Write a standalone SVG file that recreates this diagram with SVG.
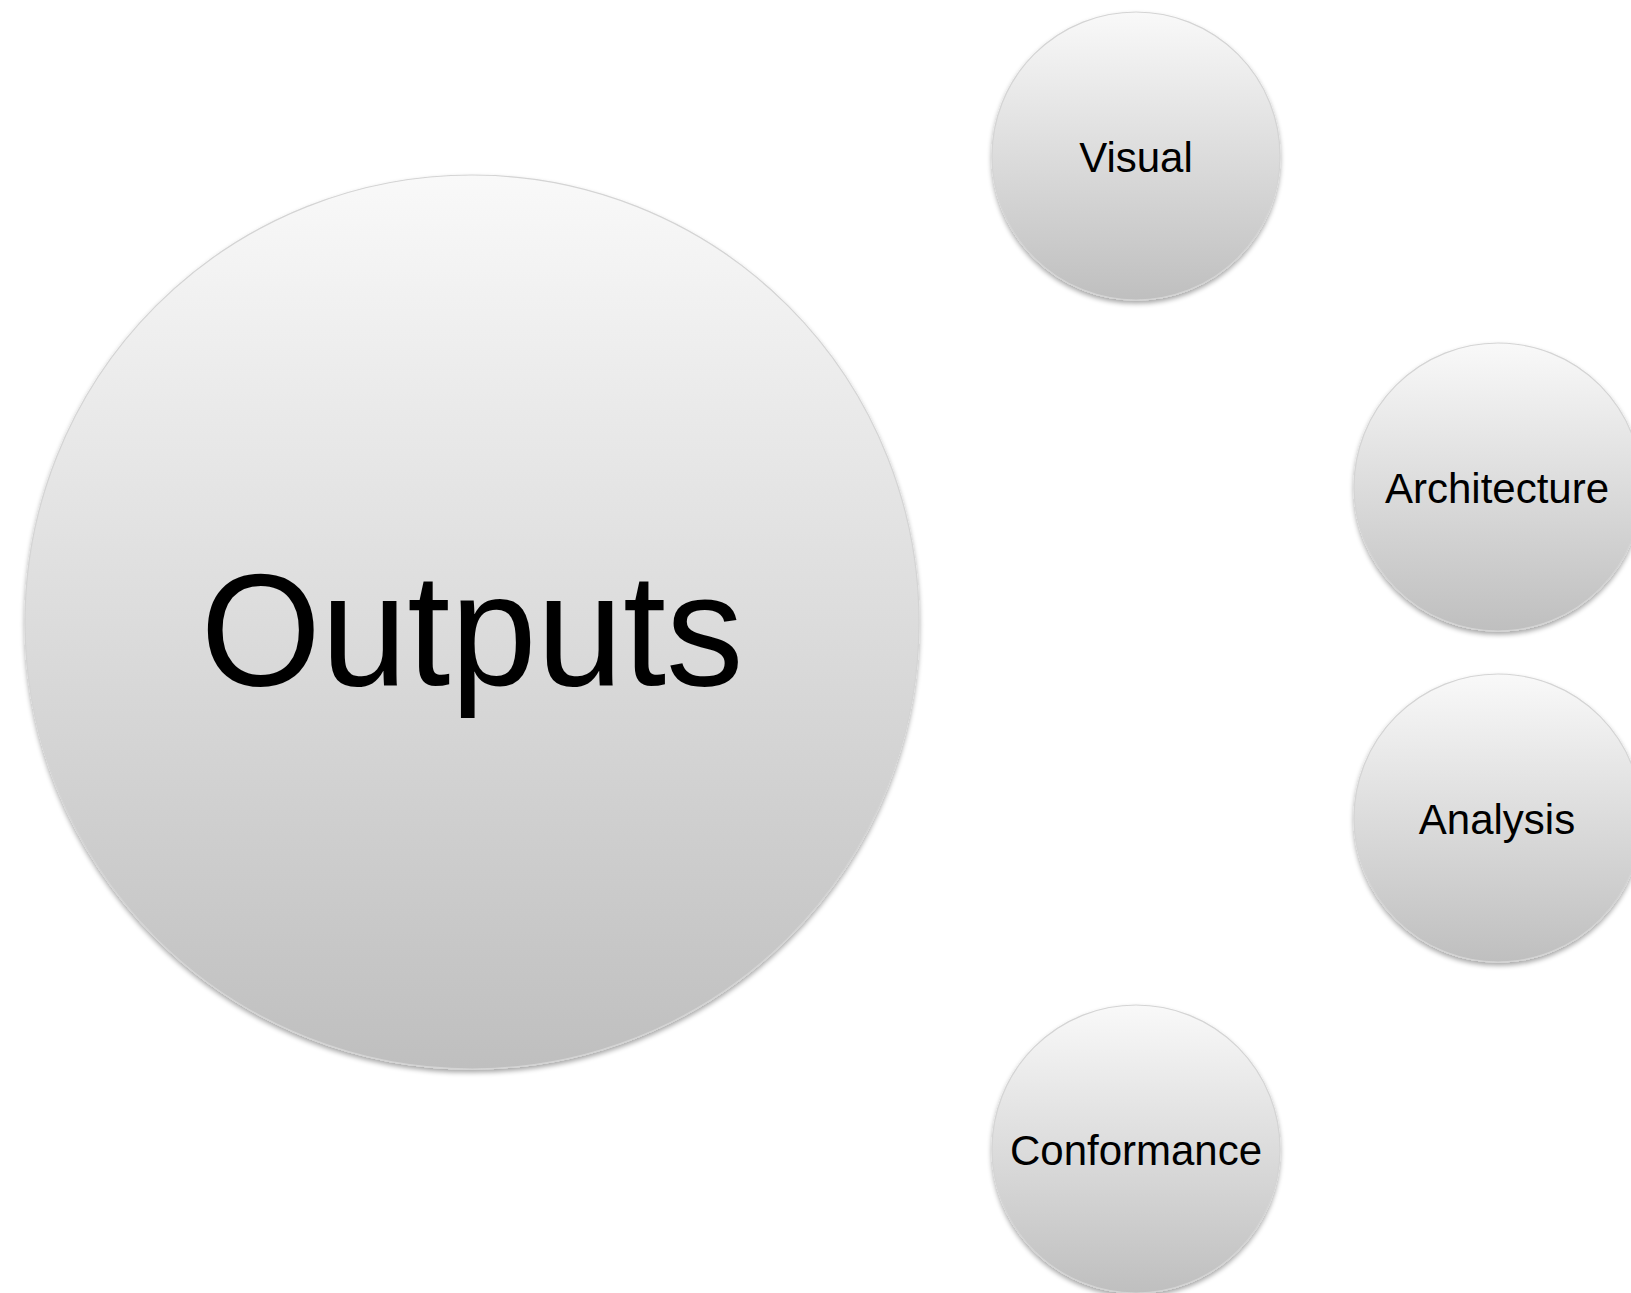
<svg xmlns="http://www.w3.org/2000/svg" width="1631" height="1293" viewBox="0 0 1631 1293">
<style>
.node{fill:url(#g);stroke:#d4d4d4;stroke-width:1.2;filter:url(#sh)}
.lbl{font-family:"Liberation Sans","Helvetica Neue",Arial,sans-serif;fill:#000;text-anchor:middle}
.s{font-size:42px}
.big{font-size:160px}
</style>
<defs>
<linearGradient id="g" x1="0" y1="0" x2="0" y2="1">
<stop offset="0" stop-color="#f9f9f9"/>
<stop offset="1" stop-color="#bfbfbf"/>
</linearGradient>
<filter id="sh" x="-10%" y="-10%" width="120%" height="125%">
<feGaussianBlur in="SourceAlpha" stdDeviation="2.5"/>
<feOffset dy="3" result="b"/>
<feComponentTransfer><feFuncA type="linear" slope="0.35"/></feComponentTransfer>
<feMerge><feMergeNode/><feMergeNode in="SourceGraphic"/></feMerge>
</filter>
</defs>
<rect width="1631" height="1293" fill="#fff"/>
<g id="connectors"/>
<g id="outputs">
<circle class="node" cx="472" cy="622" r="447"/>
<text class="lbl big" x="472" y="685" textLength="543" lengthAdjust="spacingAndGlyphs">Outputs</text>
</g>
<g id="visual">
<circle class="node" cx="1136" cy="156" r="144"/>
<text class="lbl s" x="1136" y="172">Visual</text>
</g>
<g id="architecture">
<circle class="node" cx="1498" cy="487" r="144"/>
<text class="lbl s" x="1497" y="503">Architecture</text>
</g>
<g id="analysis">
<circle class="node" cx="1498" cy="818" r="144"/>
<text class="lbl s" x="1497" y="834">Analysis</text>
</g>
<g id="conformance">
<circle class="node" cx="1136" cy="1149" r="144"/>
<text class="lbl s" x="1136" y="1165">Conformance</text>
</g>
</svg>
